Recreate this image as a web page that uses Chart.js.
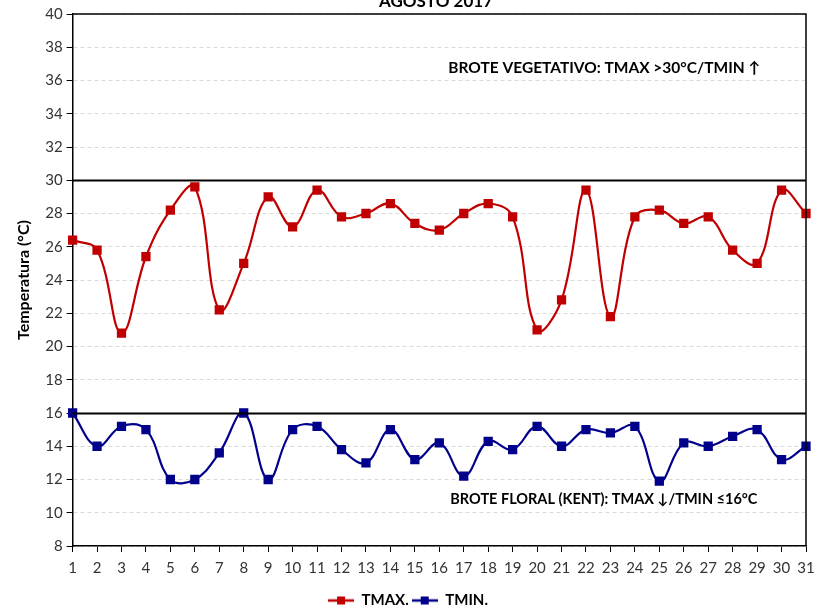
<!DOCTYPE html>
<html>
<head>
<meta charset="utf-8">
<script src="https://cdn.jsdelivr.net/npm/chart.js@4/dist/chart.umd.min.js"></script>
<style>
  html, body { margin: 0; padding: 0; background: #fff; }
  #wrap { width: 814px; height: 610px; }
</style>
</head>
<body>
<div id="wrap"><canvas id="tempChart"></canvas></div>
<script>
const days = ['1','2','3','4','5','6','7','8','9','10','11','12','13','14','15','16',
              '17','18','19','20','21','22','23','24','25','26','27','28','29','30','31'];
const tmax = [26.4, 25.8, 20.8, 25.4, 28.2, 29.6, 22.2, 25.0, 29.0, 27.2, 29.4, 27.8, 28.0, 28.6, 27.4, 27.0,
              28.0, 28.6, 27.8, 21.0, 22.8, 29.4, 21.8, 27.8, 28.2, 27.4, 27.8, 25.8, 25.0, 29.4, 28.0];
const tmin = [16.0, 14.0, 15.2, 15.0, 12.0, 12.0, 13.6, 16.0, 12.0, 15.0, 15.2, 13.8, 13.0, 15.0, 13.2, 14.2,
              12.2, 14.3, 13.8, 15.2, 14.0, 15.0, 14.8, 15.2, 11.9, 14.2, 14.0, 14.6, 15.0, 13.2, 14.0];
const thresholds = [30, 16];
const notes = [
    { text: 'BROTE VEGETATIVO: TMAX >30°C/TMIN ↑', value: 36.75 },
    { text: 'BROTE FLORAL (KENT): TMAX ↓/TMIN ≤16°C', value: 10.8 }
];

const red = '#C00000';
const blue = '#00008B';
const fontName = 'Lato, "Open Sans", sans-serif';

// legend icon: short line with a square in the middle
const legendIcon = (color) => {
    const c = document.createElement('canvas');
    c.width = 26; c.height = 10;
    const g = c.getContext('2d');
    g.strokeStyle = color; g.lineWidth = 2.5;
    g.beginPath(); g.moveTo(0, 5); g.lineTo(26, 5); g.stroke();
    g.fillStyle = color; g.fillRect(9, 1, 8, 8);
    return c;
};

const extras = {
    id: 'extras',
    afterDatasetsDraw(chart) {
        const { ctx, chartArea: a, scales: { x, y } } = chart;
        ctx.save();
        // frame top / right
        ctx.strokeStyle = '#000';
        ctx.lineWidth = 1.5;
        ctx.beginPath();
        ctx.moveTo(a.left, a.top); ctx.lineTo(a.right, a.top); ctx.lineTo(a.right, a.bottom);
        ctx.stroke();
        // threshold lines
        ctx.lineWidth = 2.2;
        thresholds.forEach(v => {
            const py = Math.round(y.getPixelForValue(v)) + 0.5;
            ctx.beginPath(); ctx.moveTo(a.left, py); ctx.lineTo(a.right, py); ctx.stroke();
        });
        // notes (category index 15 = day 16)
        ctx.fillStyle = '#000';
        ctx.textAlign = 'left';
        ctx.textBaseline = 'middle';
        ctx.font = 'bold 15.5px ' + fontName;
        ctx.fillText(notes[0].text, x.getPixelForValue(15) + 9, y.getPixelForValue(notes[0].value));
        ctx.font = 'bold 14.5px ' + fontName;
        ctx.fillText(notes[1].text, x.getPixelForValue(15) + 11, y.getPixelForValue(notes[1].value));
        // title, cut at the top edge
        ctx.font = 'bold 17px ' + fontName;
        ctx.textAlign = 'center';
        ctx.textBaseline = 'alphabetic';
        ctx.fillText('AGOSTO 2017', 436, 7);
        ctx.restore();
    }
};

const ctx = document.getElementById('tempChart').getContext('2d');
new Chart(ctx, {
    type: 'line',
    data: {
        labels: days,
        datasets: [{
            label: 'TMAX.',
            data: tmax,
            borderColor: red,
            backgroundColor: red,
            borderWidth: 2.2,
            pointStyle: 'rect',
            pointRadius: 5,
            pointHoverRadius: 5,
            tension: 0.4
        }, {
            label: 'TMIN.',
            data: tmin,
            borderColor: blue,
            backgroundColor: blue,
            borderWidth: 2.2,
            pointStyle: 'rect',
            pointRadius: 5,
            pointHoverRadius: 5,
            tension: 0.4
        }]
    },
    options: {
        responsive: true,
        maintainAspectRatio: false,
        animation: false,
        layout: { padding: { top: 14, right: 8, left: 10, bottom: -8 } },
        plugins: {
            tooltip: { enabled: false },
            legend: {
                position: 'bottom',
                labels: {
                    usePointStyle: true,
                    pointStyleWidth: 26,
                    color: '#000',
                    font: { family: fontName, size: 15, weight: 'bold' },
                    padding: 3,
                    generateLabels: (chart) => chart.data.datasets.map((ds, i) => ({
                        text: ds.label,
                        fontColor: '#000',
                        pointStyle: legendIcon(ds.borderColor),
                        datasetIndex: i,
                        lineWidth: 0,
                        strokeStyle: ds.borderColor,
                        fillStyle: ds.borderColor
                    }))
                }
            }
        },
        scales: {
            x: {
                offset: false,
                grid: { drawOnChartArea: false, tickLength: 6, tickColor: '#000' },
                border: { color: '#000', width: 1.5 },
                ticks: { color: '#333', font: { family: fontName, size: 15 }, maxRotation: 0, autoSkip: false, padding: 7 },
                afterFit: (scale) => { scale.height += 6; scale.paddingRight = 0; }
            },
            y: {
                min: 8,
                max: 40,
                ticks: { stepSize: 2, color: '#333', font: { family: fontName, size: 15 }, padding: 4 },
                grid: { color: '#d9d9d9', tickColor: '#000', tickLength: 6, tickBorderDash: [] },
                border: { color: '#000', width: 1.5, dash: [4, 3] },
                title: {
                    display: true,
                    text: 'Temperatura (°C)',
                    color: '#000',
                    font: { family: fontName, size: 16, weight: 'bold' },
                    padding: { bottom: 8 }
                }
            }
        }
    },
    plugins: [extras]
});
</script>
</body>
</html>
